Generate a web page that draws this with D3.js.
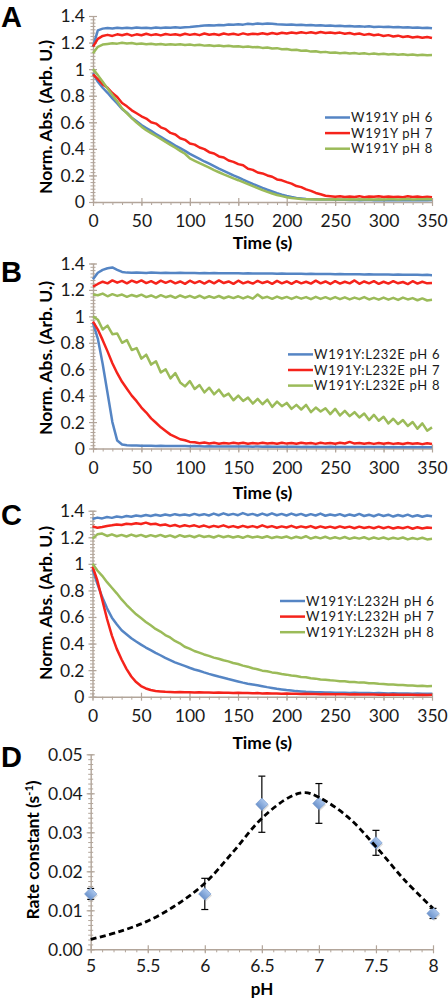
<!DOCTYPE html>
<html><head><meta charset="utf-8">
<script src="https://cdn.jsdelivr.net/npm/d3@7"></script>
<style>body{margin:0;background:#fff} svg{display:block}</style>
</head><body>
<svg id="c" width="448" height="1000"></svg>
<script>
// ---------- DATA ----------
const time = [0,5,10,15,20,25,30,35,40,45, 50,55,60,65,70,75,80,85,90,95,
  100,105,110,115,120,125,130,135,140,145, 150,155,160,165,170,175,180,185,190,195,
  200,205,210,215,220,225,230,235,240,245, 250,255,260,265,270,275,280,285,290,295,
  300,305,310,315,320,325,330,335,340,345, 350];

const xTicks = [0,50,100,150,200,250,300,350];
const xTickLabels = ['0','50','100','150','200','250','300','350'];
const yTicks = [0,0.2,0.4,0.6,0.8,1,1.2,1.4];
const yTickLabels = ['0','0.2','0.4','0.6','0.8','1','1.2','1.4'];

// Panel A: W191Y
const legendA = ['W191Y pH 6','W191Y pH 7','W191Y pH 8'];
const aFlat6 = [1.17,1.292,1.305,1.31,1.306,1.312,1.308,1.311,1.307,1.313,
 1.309,1.312,1.308,1.314,1.31,1.313,1.311,1.315,1.312,1.316,
 1.318,1.321,1.324,1.328,1.331,1.329,1.333,1.331,1.336,1.334,
 1.338,1.335,1.341,1.338,1.343,1.34,1.344,1.341,1.338,1.336,
 1.334,1.336,1.332,1.334,1.33,1.332,1.328,1.33,1.326,1.328,
 1.325,1.327,1.323,1.325,1.321,1.323,1.32,1.322,1.318,1.32,
 1.317,1.319,1.315,1.317,1.313,1.315,1.312,1.314,1.31,1.312, 1.308];
const aFlat7 = [1.17,1.228,1.25,1.258,1.25,1.262,1.255,1.265,1.252,1.262,
 1.255,1.266,1.256,1.262,1.254,1.265,1.258,1.263,1.255,1.266,
 1.258,1.264,1.256,1.268,1.259,1.265,1.257,1.268,1.26,1.266,
 1.258,1.269,1.26,1.267,1.262,1.27,1.263,1.272,1.265,1.274,
 1.268,1.276,1.27,1.278,1.271,1.277,1.27,1.279,1.272,1.276,
 1.27,1.275,1.266,1.272,1.262,1.268,1.258,1.264,1.255,1.26,
 1.25,1.256,1.246,1.252,1.242,1.248,1.238,1.244,1.236,1.242, 1.234];
const aFlat8 = [1.12,1.168,1.185,1.19,1.195,1.192,1.198,1.193,1.196,1.19,
 1.193,1.187,1.191,1.185,1.19,1.184,1.188,1.183,1.187,1.181,
 1.185,1.179,1.183,1.177,1.18,1.174,1.178,1.172,1.176,1.17,
 1.173,1.167,1.17,1.164,1.167,1.16,1.163,1.155,1.158,1.15,
 1.152,1.144,1.146,1.138,1.14,1.132,1.134,1.127,1.13,1.123,
 1.126,1.12,1.123,1.117,1.121,1.115,1.119,1.113,1.117,1.112,
 1.116,1.11,1.114,1.108,1.112,1.106,1.11,1.105,1.109,1.104, 1.106];
const aDec6 = [0.97,0.905,0.86,0.822,0.78,0.742,0.70,0.672,0.635,0.607,
 0.58,0.557,0.535,0.512,0.49,0.468,0.447,0.425,0.405,0.385,
 0.362,0.343,0.325,0.305,0.288,0.27,0.252,0.235,0.218,0.2,
 0.185,0.168,0.152,0.136,0.121,0.106,0.092,0.079,0.066,0.055,
 0.046,0.038,0.031,0.027,0.023,0.021,0.02,0.019,0.018,0.018,
 0.017,0.016,0.017,0.015,0.016,0.014,0.015,0.016,0.014,0.015,
 0.013,0.015,0.014,0.013,0.015,0.014,0.013,0.014,0.015,0.014, 0.015];
const aDec7 = [0.96,0.925,0.885,0.86,0.82,0.79,0.745,0.72,0.69,0.668,
 0.645,0.628,0.6,0.59,0.562,0.548,0.52,0.508,0.48,0.468,
 0.44,0.432,0.41,0.398,0.375,0.365,0.343,0.335,0.312,0.302,
 0.285,0.276,0.25,0.242,0.222,0.215,0.2,0.19,0.17,0.163,
 0.15,0.138,0.12,0.112,0.095,0.084,0.068,0.058,0.047,0.044,
 0.04,0.043,0.037,0.042,0.038,0.044,0.036,0.041,0.039,0.043,
 0.037,0.042,0.038,0.04,0.036,0.043,0.038,0.041,0.036,0.04, 0.035];
const aDec8 = [1.0,0.955,0.905,0.855,0.805,0.758,0.705,0.668,0.632,0.598,
 0.567,0.54,0.518,0.497,0.475,0.452,0.43,0.408,0.385,0.363,
 0.328,0.31,0.292,0.275,0.258,0.24,0.224,0.208,0.193,0.178,
 0.164,0.149,0.134,0.119,0.104,0.089,0.076,0.064,0.053,0.044,
 0.036,0.03,0.026,0.023,0.021,0.02,0.019,0.02,0.018,0.019,
 0.02,0.018,0.019,0.021,0.018,0.02,0.019,0.021,0.018,0.02,
 0.019,0.021,0.02,0.018,0.02,0.022,0.019,0.021,0.02,0.022, 0.02];

// Panel B: W191Y:L232E
const legendB = ['W191Y:L232E pH 6','W191Y:L232E pH 7','W191Y:L232E pH 8'];
const bFlat6 = [1.28,1.33,1.352,1.364,1.37,1.352,1.336,1.331,1.33,1.331,
 1.33,1.329,1.331,1.33,1.329,1.33,1.328,1.329,1.33,1.328,
 1.329,1.328,1.327,1.328,1.327,1.328,1.326,1.327,1.326,1.327,
 1.326,1.325,1.326,1.325,1.324,1.325,1.324,1.325,1.323,1.324,
 1.323,1.322,1.323,1.322,1.321,1.322,1.321,1.32,1.321,1.32,
 1.319,1.32,1.319,1.318,1.319,1.318,1.317,1.318,1.317,1.316,
 1.317,1.316,1.315,1.316,1.315,1.314,1.315,1.314,1.313,1.314, 1.312];
const bFlat7 = [1.225,1.245,1.262,1.25,1.272,1.255,1.268,1.25,1.27,1.256,
 1.272,1.252,1.266,1.248,1.27,1.254,1.268,1.25,1.264,1.246,
 1.27,1.252,1.266,1.248,1.268,1.25,1.272,1.252,1.264,1.246,
 1.27,1.25,1.262,1.248,1.268,1.252,1.264,1.246,1.268,1.25,
 1.264,1.246,1.266,1.25,1.262,1.248,1.27,1.25,1.264,1.245,
 1.266,1.248,1.262,1.25,1.272,1.246,1.264,1.25,1.266,1.246,
 1.262,1.248,1.266,1.25,1.26,1.244,1.266,1.248,1.262,1.25, 1.252];
const bFlat8 = [1.165,1.16,1.172,1.152,1.168,1.155,1.165,1.148,1.162,1.15,
 1.164,1.146,1.158,1.142,1.16,1.145,1.156,1.14,1.158,1.143,
 1.155,1.14,1.156,1.138,1.152,1.14,1.154,1.137,1.15,1.138,
 1.152,1.136,1.15,1.134,1.165,1.138,1.148,1.133,1.15,1.135,
 1.147,1.132,1.148,1.134,1.146,1.13,1.148,1.132,1.145,1.13,
 1.146,1.13,1.144,1.128,1.142,1.13,1.146,1.128,1.14,1.126,
 1.142,1.126,1.14,1.124,1.142,1.128,1.138,1.122,1.136,1.12, 1.125];
const bDec6 = [0.95,0.83,0.64,0.42,0.2,0.06,0.03,0.025,0.023,0.022,
 0.02,0.021,0.02,0.019,0.02,0.019,0.018,0.019,0.018,0.018,
 0.017,0.018,0.017,0.016,0.017,0.016,0.016,0.015,0.016,0.015,
 0.015,0.016,0.015,0.014,0.015,0.014,0.015,0.014,0.013,0.014,
 0.013,0.014,0.013,0.012,0.013,0.012,0.013,0.012,0.012,0.013,
 0.012,0.011,0.012,0.011,0.012,0.011,0.012,0.011,0.011,0.012,
 0.011,0.01,0.011,0.01,0.011,0.01,0.011,0.01,0.011,0.01, 0.01];
const bDec7 = [0.96,0.9,0.82,0.735,0.645,0.57,0.505,0.452,0.4,0.358,
 0.31,0.272,0.228,0.195,0.16,0.132,0.105,0.088,0.07,0.062,
 0.05,0.047,0.04,0.045,0.038,0.043,0.036,0.042,0.037,0.044,
 0.038,0.043,0.036,0.041,0.037,0.044,0.038,0.042,0.036,0.043,
 0.037,0.042,0.036,0.044,0.038,0.041,0.035,0.043,0.037,0.042,
 0.036,0.043,0.038,0.05,0.037,0.042,0.036,0.041,0.035,0.042,
 0.036,0.041,0.035,0.04,0.034,0.041,0.036,0.039,0.033,0.04, 0.034];
const bDec8 = [1.0,0.975,0.9,0.93,0.865,0.87,0.8,0.82,0.745,0.76,
 0.68,0.71,0.635,0.66,0.575,0.6,0.53,0.57,0.5,0.47,
 0.51,0.45,0.48,0.425,0.46,0.41,0.445,0.395,0.415,0.365,
 0.4,0.36,0.385,0.34,0.375,0.335,0.37,0.315,0.355,0.32,
 0.345,0.3,0.33,0.295,0.33,0.275,0.31,0.28,0.305,0.26,
 0.3,0.25,0.285,0.245,0.275,0.235,0.265,0.215,0.255,0.21,
 0.24,0.19,0.225,0.185,0.215,0.17,0.2,0.15,0.19,0.135, 0.16];

// Panel C: W191Y:L232H
const legendC = ['W191Y:L232H pH 6','W191Y:L232H pH 7','W191Y:L232H pH 8'];
const cFlat6 = [1.338,1.348,1.342,1.352,1.346,1.356,1.35,1.36,1.354,1.364,
 1.358,1.368,1.36,1.37,1.362,1.372,1.364,1.374,1.366,1.372,
 1.364,1.376,1.366,1.374,1.364,1.378,1.366,1.38,1.368,1.376,
 1.366,1.382,1.368,1.376,1.364,1.378,1.366,1.38,1.366,1.376,
 1.364,1.378,1.366,1.376,1.362,1.374,1.364,1.378,1.362,1.372,
 1.364,1.374,1.36,1.372,1.362,1.376,1.36,1.37,1.358,1.372,
 1.36,1.37,1.356,1.368,1.358,1.37,1.356,1.366,1.354,1.364, 1.358];
const cFlat7 = [1.282,1.272,1.278,1.285,1.29,1.296,1.292,1.302,1.298,1.306,
 1.3,1.31,1.298,1.302,1.29,1.296,1.284,1.292,1.28,1.29,
 1.282,1.29,1.278,1.288,1.276,1.286,1.278,1.29,1.276,1.284,
 1.274,1.286,1.276,1.284,1.274,1.29,1.276,1.284,1.272,1.282,
 1.274,1.286,1.272,1.282,1.274,1.284,1.27,1.282,1.272,1.28,
 1.27,1.282,1.272,1.28,1.268,1.28,1.27,1.278,1.268,1.28,
 1.268,1.278,1.266,1.276,1.268,1.278,1.264,1.276,1.266,1.274, 1.27];
const cFlat8 = [1.19,1.222,1.228,1.21,1.222,1.208,1.218,1.206,1.22,1.208,
 1.218,1.204,1.216,1.206,1.218,1.204,1.214,1.2,1.216,1.204,
 1.212,1.2,1.214,1.202,1.21,1.198,1.212,1.2,1.21,1.198,
 1.208,1.196,1.21,1.198,1.206,1.196,1.208,1.194,1.204,1.196,
 1.206,1.192,1.204,1.194,1.208,1.19,1.202,1.192,1.204,1.19,
 1.2,1.19,1.202,1.188,1.198,1.19,1.2,1.186,1.198,1.188,
 1.198,1.186,1.196,1.188,1.198,1.184,1.194,1.186,1.196,1.184, 1.188];
const cDec6 = [0.96,0.85,0.75,0.665,0.595,0.545,0.5,0.47,0.44,0.415,
 0.392,0.37,0.35,0.33,0.312,0.292,0.275,0.258,0.245,0.232,
 0.218,0.205,0.195,0.183,0.172,0.162,0.152,0.143,0.133,0.124,
 0.115,0.106,0.098,0.092,0.086,0.079,0.072,0.066,0.06,0.055,
 0.05,0.046,0.042,0.04,0.037,0.036,0.034,0.033,0.032,0.031,
 0.03,0.029,0.03,0.028,0.029,0.028,0.027,0.028,0.026,0.027,
 0.026,0.025,0.026,0.024,0.025,0.024,0.023,0.024,0.022,0.023, 0.022];
const cDec7 = [0.98,0.875,0.73,0.585,0.46,0.36,0.28,0.21,0.152,0.11,
 0.08,0.062,0.05,0.043,0.04,0.037,0.036,0.034,0.035,0.033,
 0.034,0.032,0.033,0.031,0.032,0.03,0.031,0.029,0.03,0.028,
 0.029,0.027,0.028,0.026,0.027,0.025,0.026,0.024,0.025,0.023,
 0.024,0.022,0.023,0.021,0.022,0.02,0.021,0.019,0.02,0.018,
 0.019,0.018,0.019,0.017,0.018,0.016,0.017,0.016,0.017,0.015,
 0.016,0.015,0.016,0.014,0.015,0.014,0.015,0.013,0.014,0.013, 0.014];
const cDec8 = [1.0,0.95,0.91,0.862,0.82,0.778,0.732,0.692,0.655,0.62,
 0.592,0.563,0.537,0.51,0.49,0.464,0.446,0.42,0.402,0.376,
 0.362,0.344,0.332,0.318,0.307,0.294,0.286,0.274,0.266,0.254,
 0.246,0.234,0.226,0.214,0.207,0.196,0.192,0.183,0.179,0.171,
 0.166,0.159,0.156,0.149,0.146,0.139,0.136,0.129,0.128,0.123,
 0.121,0.117,0.116,0.111,0.111,0.106,0.106,0.102,0.101,0.097,
 0.096,0.092,0.091,0.088,0.088,0.084,0.084,0.081,0.082,0.079, 0.08];

// Panel D: rate constant vs pH
const pH = [5, 6, 6.5, 7, 7.5, 8];
const rate = [0.0142, 0.0142, 0.0372, 0.0374, 0.0273, 0.0092];
const rateErr = [0.0014, 0.0040, 0.0072, 0.0051, 0.0032, 0.0013];
const fitPH = [5, 5.25, 5.5, 5.75, 6, 6.25, 6.5, 6.75, 6.88, 7, 7.25, 7.5, 7.75, 8];
const fitRate = [0.00256, 0.00452, 0.00726, 0.01136, 0.01692, 0.02504, 0.03358, 0.03914, 0.04017, 0.03897, 0.03401, 0.02632, 0.01777, 0.0105];
const dXTicks = [5, 5.5, 6, 6.5, 7, 7.5, 8];
const dXTickLabels = ['5','5.5','6','6.5','7','7.5','8'];
const dYTicks = [0, 0.01, 0.02, 0.03, 0.04, 0.05];
const dYTickLabels = ['0.00','0.01','0.02','0.03','0.04','0.05'];

// ---------- DRAWING ----------
const svg = d3.select('#c');
const AXIS = '#b2a59a';
const COLORS = ['#5585c4', '#f5231b', '#9bbb59'];
const FONT = 'Lato, "Open Sans", sans-serif';
const TICKFS = 17.5;
const TITLEFS = 17.5;

function styleAxis(sel) {
  sel.select('.domain').attr('stroke', AXIS).attr('stroke-width', 1.4);
  sel.selectAll('.tick line').attr('stroke', AXIS).attr('stroke-width', 1.2);
  sel.selectAll('text').attr('font-family', FONT).attr('font-size', TICKFS).attr('fill', '#1a1a1a');
}

function drawAxes(g, x, y, xt, xtl, yt, ytl, xMinor, yMinor, xLabOff) {
  const yMin = g.append('g').attr('transform', `translate(${x.range()[0]},0)`)
    .call(d3.axisLeft(y).tickValues(yMinor).tickSize(2.5).tickSizeOuter(0).tickFormat(''));
  yMin.selectAll('.tick line').attr('x2', -2.5).attr('x1', 2.5);
  yMin.select('.domain').remove();
  yMin.selectAll('.tick line').attr('stroke', AXIS).attr('stroke-width', 1);
  const xMin = g.append('g').attr('transform', `translate(0,${y.range()[0]})`)
    .call(d3.axisBottom(x).tickValues(xMinor).tickSize(3).tickSizeOuter(0).tickFormat(''));
  xMin.select('.domain').remove();
  xMin.selectAll('.tick line').attr('stroke', AXIS).attr('stroke-width', 1);
  const ya = g.append('g').attr('transform', `translate(${x.range()[0]},0)`)
    .call(d3.axisLeft(y).tickValues(yt).tickSize(4).tickSizeOuter(0).tickFormat((d, i) => ytl[i]));
  ya.selectAll('.tick line').attr('x1', 4);
  ya.selectAll('.tick text').attr('x', -8).attr('dy', '0.34em');
  styleAxis(ya);
  const xa = g.append('g').attr('transform', `translate(0,${y.range()[0]})`)
    .call(d3.axisBottom(x).tickValues(xt).tickSize(4).tickSizeOuter(0).tickFormat((d, i) => xtl[i]));
  xa.selectAll('.tick line').attr('y1', -4);
  xa.selectAll('.tick text').attr('y', xLabOff).attr('dy', null);
  styleAxis(xa);
}

function panelLetter(txt, yb) {
  svg.append('text').attr('x', 1).attr('y', yb).text(txt)
    .attr('font-family', '"Liberation Sans", Arial, sans-serif').attr('font-weight', 'bold')
    .attr('font-size', 29).attr('fill', '#000');
}

function yTitle(x, yc, build) {
  const t = svg.append('text').attr('transform', `translate(${x},${yc}) rotate(-90)`)
    .attr('text-anchor', 'middle').attr('font-family', FONT).attr('font-weight', 'bold')
    .attr('font-size', TITLEFS).attr('fill', '#000');
  build(t);
}

function xTitle(xc, yb, txt, fs) {
  svg.append('text').attr('x', xc).attr('y', yb).attr('text-anchor', 'middle')
    .attr('font-family', FONT).attr('font-weight', 'bold').attr('font-size', fs || TITLEFS)
    .attr('fill', '#000').text(txt);
}

function tracePanel(cfg) {
  const g = svg.append('g');
  const x = d3.scaleLinear().domain([0, 350]).range([cfg.x0, cfg.x1]);
  const y = d3.scaleLinear().domain([0, 1.4]).range([cfg.y1, cfg.y0]);
  drawAxes(g, x, y, xTicks, xTickLabels, yTicks, yTickLabels,
    d3.range(0, 351, 10), d3.range(0, 1.4001, 0.025), 25);
  const line = d3.line().x((d, i) => x(time[i])).y(d => y(d));
  cfg.series.forEach((s, k) => {
    [s.flat, s.decay].forEach(arr => {
      g.append('path').datum(arr).attr('d', line).attr('fill', 'none')
        .attr('stroke', COLORS[k]).attr('stroke-width', 2.5).attr('stroke-linejoin', 'round');
    });
  });
  const lg = g.append('g');
  cfg.legend.forEach((name, k) => {
    const yy = cfg.legY + k * 15.6;
    lg.append('line').attr('x1', cfg.legX).attr('x2', cfg.legX + 25).attr('y1', yy).attr('y2', yy)
      .attr('stroke', COLORS[k]).attr('stroke-width', 2.5);
    lg.append('text').attr('x', cfg.legX + 26).attr('y', yy).attr('dy', '0.35em')
      .attr('font-family', FONT).attr('font-size', 13).attr('letter-spacing', 0.7)
      .attr('fill', '#1a1a1a').text(name);
  });
  xTitle((cfg.x0 + cfg.x1) / 2, cfg.titleY, 'Time (s)');
  yTitle(cfg.yTitleX, cfg.yTitleY, t => t.text('Norm. Abs. (Arb. U.)'));
}

tracePanel({x0: 93, x1: 432, y0: 16, y1: 202, legX: 325, legY: 117.5,
  legend: legendA, titleY: 249, yTitleX: 52, yTitleY: 117,
  series: [{flat: aFlat6, decay: aDec6}, {flat: aFlat7, decay: aDec7}, {flat: aFlat8, decay: aDec8}]});
tracePanel({x0: 93, x1: 432, y0: 263.5, y1: 448.5, legX: 288, legY: 354.4,
  legend: legendB, titleY: 499, yTitleX: 52, yTitleY: 358,
  series: [{flat: bFlat6, decay: bDec6}, {flat: bFlat7, decay: bDec7}, {flat: bFlat8, decay: bDec8}]});
tracePanel({x0: 92.5, x1: 432, y0: 510.7, y1: 696.7, legX: 280, legY: 601,
  legend: legendC, titleY: 749, yTitleX: 52, yTitleY: 603,
  series: [{flat: cFlat6, decay: cDec6}, {flat: cFlat7, decay: cDec7}, {flat: cFlat8, decay: cDec8}]});

panelLetter('A', 27);
panelLetter('B', 282);
panelLetter('C', 525);
panelLetter('D', 767);

// Panel D
(function () {
  const g = svg.append('g');
  const x = d3.scaleLinear().domain([5, 8]).range([90.7, 433]);
  const y = d3.scaleLinear().domain([0, 0.05]).range([949.3, 754.3]);
  drawAxes(g, x, y, dXTicks, dXTickLabels, dYTicks, dYTickLabels,
    d3.range(5, 8.001, 0.1), d3.range(0, 0.05001, 0.00125), 23.2);

  const defs = svg.append('defs');
  const grad = defs.append('linearGradient').attr('id', 'dg').attr('x1', 0).attr('y1', 0).attr('x2', 0).attr('y2', 1);
  grad.append('stop').attr('offset', '0%').attr('stop-color', '#a9c5ec');
  grad.append('stop').attr('offset', '100%').attr('stop-color', '#6c93cc');

  pH.forEach((p, i) => {
    const cx = x(p), yt = y(rate[i] + rateErr[i]), yb = y(rate[i] - rateErr[i]);
    g.append('line').attr('x1', cx).attr('x2', cx).attr('y1', yt).attr('y2', yb).attr('stroke', '#000').attr('stroke-width', 1.2);
    [yt, yb].forEach(yy => g.append('line').attr('x1', cx - 3.5).attr('x2', cx + 3.5).attr('y1', yy).attr('y2', yy)
      .attr('stroke', '#000').attr('stroke-width', 1.2));
  });
  const sym = d3.symbol(d3.symbolSquare, 76);
  pH.forEach((p, i) => {
    g.append('path').attr('d', sym).attr('transform', `translate(${x(p) + 1},${y(rate[i]) + 1.5}) rotate(45)`)
      .attr('fill', '#999').attr('opacity', 0.35);
    g.append('path').attr('d', sym).attr('transform', `translate(${x(p)},${y(rate[i])}) rotate(45)`)
      .attr('fill', 'url(#dg)').attr('stroke', '#6f95cc').attr('stroke-width', 0.6);
  });
  const fitLine = d3.line().x((d, i) => x(fitPH[i])).y(d => y(d)).curve(d3.curveCatmullRom);
  g.append('path').datum(fitRate).attr('d', fitLine).attr('fill', 'none')
    .attr('stroke', '#000').attr('stroke-width', 2.8).attr('stroke-dasharray', '6,3.5');

  xTitle(262, 994.5, 'pH', 17);
  yTitle(39, 850, t => {
    t.append('tspan').text('Rate constant (s');
    t.append('tspan').attr('dy', -6).attr('font-size', 11).text('-1');
    t.append('tspan').attr('dy', 6).text(')');
  });
})();
</script>
</body></html>
